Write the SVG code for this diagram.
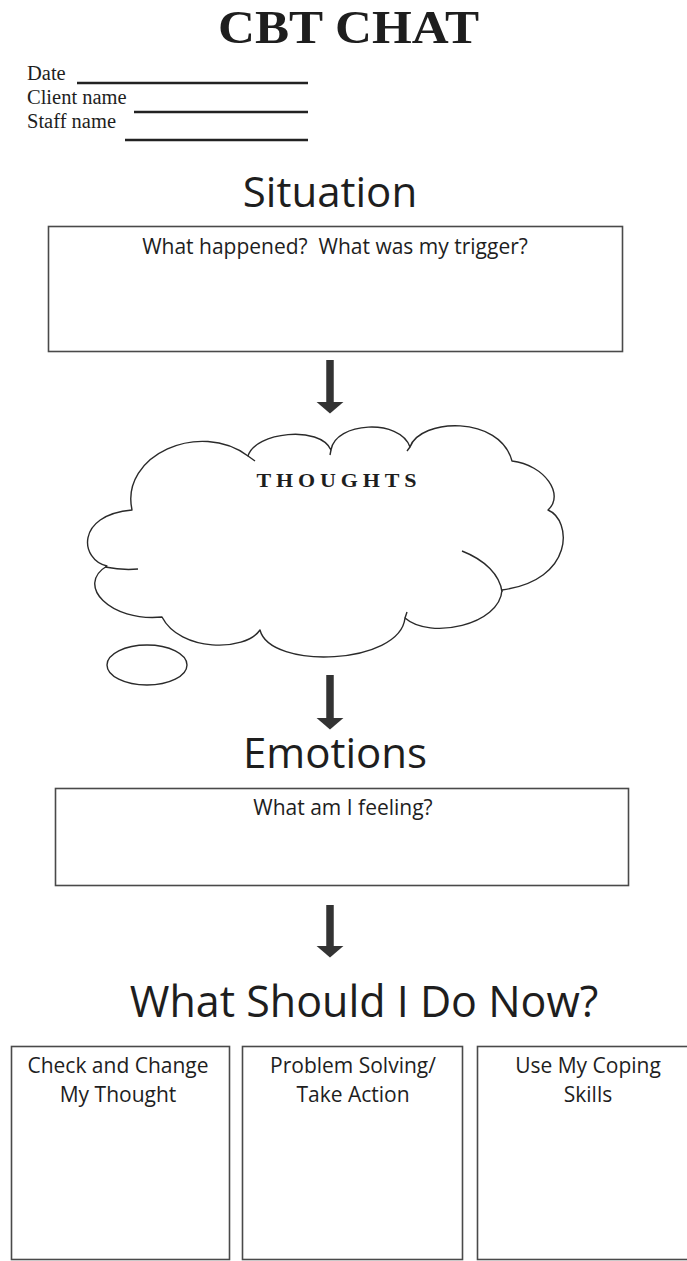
<svg xmlns="http://www.w3.org/2000/svg" width="687" height="1261" viewBox="0 0 687 1261">
  <defs>
    <style>
      .serif { font-family: "Liberation Serif", "Times New Roman", serif; fill: #1e1e1e; }
      .sans { font-family: "Open Sans", "Noto Sans", sans-serif; fill: #1e1e1e; }
      .head { font-size: 42px; text-anchor: middle; }
      .label { font-size: 21px; text-anchor: middle; }
      .box { fill: #ffffff; stroke: #4a4a4a; stroke-width: 1.6; }
      .rule { stroke: #222; stroke-width: 2.5; }
      .cloud { fill: #ffffff; stroke: #2a2a2a; stroke-width: 1.4; stroke-linejoin: round; }
      .conn { stroke: #333; stroke-width: 7.5; fill: none; }
    </style>
    <marker id="arrowhead" markerUnits="userSpaceOnUse" viewBox="0 0 12 28" markerWidth="12" markerHeight="28" refX="0.5" refY="14" orient="auto">
      <path d="M0,0 L12,14 L0,28 Z" fill="#333"/>
    </marker>
  </defs>
  <rect x="0" y="0" width="687" height="1261" fill="#ffffff"/>

  <g id="header">
    <text class="serif" x="348.5" y="43" font-size="47" font-weight="bold" text-anchor="middle" textLength="261" lengthAdjust="spacingAndGlyphs">CBT CHAT</text>
    <text class="serif" x="27" y="80" font-size="20.5">Date</text>
    <line class="rule" x1="77" y1="83" x2="308" y2="83"/>
    <text class="serif" x="27" y="104" font-size="20.5">Client name</text>
    <line class="rule" x1="134" y1="112" x2="308" y2="112"/>
    <text class="serif" x="27" y="128" font-size="20.5">Staff name</text>
    <line class="rule" x1="125" y1="140" x2="308" y2="140"/>
  </g>

  <g id="situation">
    <text class="sans head" x="330" y="207">Situation</text>
    <rect class="box" x="48.5" y="226.5" width="574" height="125"/>
    <text class="sans label" x="335" y="254">What happened?&#160; What was my trigger?</text>
  </g>

  <g id="thoughts">
    <path class="cloud" d="M132,510 C120,455 200,420 248,456 C255,432 320,425 331,450 C335,422 400,418 410,447 C420,418 500,415 512,461 C545,465 565,495 548,510 C572,520 575,580 502,590 C500,625 430,640 405,618 C400,665 270,670 260,630 C245,652 180,652 162,617 C110,622 75,585 107,566 C80,560 75,515 132,510 Z"/>
    <path class="cloud" fill="none" d="M462,551 C485,560 500,575 502,592 M105,567 C115,569 128,570 138,569 M405,618 L407,612 M248,456 L255,461 M331,450 L330,455 M410,447 L407,451"/>
    <ellipse class="cloud" cx="147" cy="665" rx="40" ry="20"/>
    <text class="serif" x="339" y="487" font-size="18" font-weight="bold" text-anchor="middle" letter-spacing="4" textLength="165" lengthAdjust="spacingAndGlyphs">THOUGHTS</text>
  </g>

  <g id="emotions">
    <text class="sans head" x="335" y="768">Emotions</text>
    <rect class="box" x="55.5" y="788.5" width="573" height="97"/>
    <text class="sans label" x="343" y="815">What am I feeling?</text>
  </g>

  <g id="action-heading">
    <text class="sans" x="364" y="1017" font-size="43" text-anchor="middle">What Should I Do Now?</text>
  </g>

  <g id="check-change">
    <rect class="box" x="11.5" y="1046.5" width="218" height="213"/>
    <text class="sans label" x="118" y="1073">Check and Change</text>
    <text class="sans label" x="118" y="1102">My Thought</text>
  </g>

  <g id="problem-solving">
    <rect class="box" x="242.5" y="1046.5" width="220" height="213"/>
    <text class="sans label" x="353" y="1073">Problem Solving/</text>
    <text class="sans label" x="353" y="1102">Take Action</text>
  </g>

  <g id="coping-skills">
    <rect class="box" x="477.5" y="1046.5" width="215" height="213"/>
    <text class="sans label" x="588" y="1073">Use My Coping</text>
    <text class="sans label" x="588" y="1102">Skills</text>
  </g>

  <g id="connectors">
    <line class="conn" x1="330" y1="360" x2="330" y2="402" marker-end="url(#arrowhead)"/>
    <line class="conn" x1="330" y1="675" x2="330" y2="718" marker-end="url(#arrowhead)"/>
    <line class="conn" x1="330" y1="905" x2="330" y2="946" marker-end="url(#arrowhead)"/>
  </g>
</svg>
